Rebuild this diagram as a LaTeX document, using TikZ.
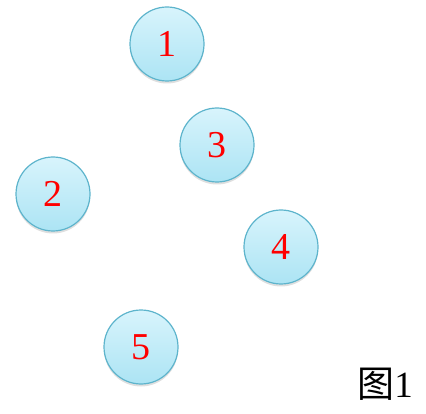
\documentclass[tikz,border=0pt]{standalone}
\usepackage{fontspec}
\setmainfont{Liberation Serif}
\newfontfamily\cjk{Noto Sans CJK SC}
\usetikzlibrary{shadows}
\definecolor{ballrim}{HTML}{5DB4CC}
\definecolor{balltop}{HTML}{D8F4FC}
\definecolor{ballbot}{HTML}{ACE4F4}
\tikzset{
    ball/.style={circle, minimum size=74pt, inner sep=0pt, draw=ballrim, line width=1.2pt,
        top color=balltop, bottom color=ballbot,
        drop shadow={shadow xshift=0pt, shadow yshift=-2.5pt, opacity=0.25},
        text=red, font=\fontsize{38}{38}\selectfont},
    caption/.style={inner sep=0pt, font=\fontsize{37}{37}\selectfont}
}
\begin{document}
\begin{tikzpicture}[x=1pt,y=-1pt]
    \useasboundingbox (0,0) rectangle (426,414);
    %balls
    \node[ball] (n1) at (167,44) {1};
    \node[ball] (n3) at (217,145) {3};
    \node[ball] (n2) at (53,194) {2};
    \node[ball] (n4) at (281,247) {4};
    \node[ball] (n5) at (141,347) {5};
    %label
    \node[caption] (fig) at (385,384) {{\cjk 图}1};
\end{tikzpicture}
\end{document}
